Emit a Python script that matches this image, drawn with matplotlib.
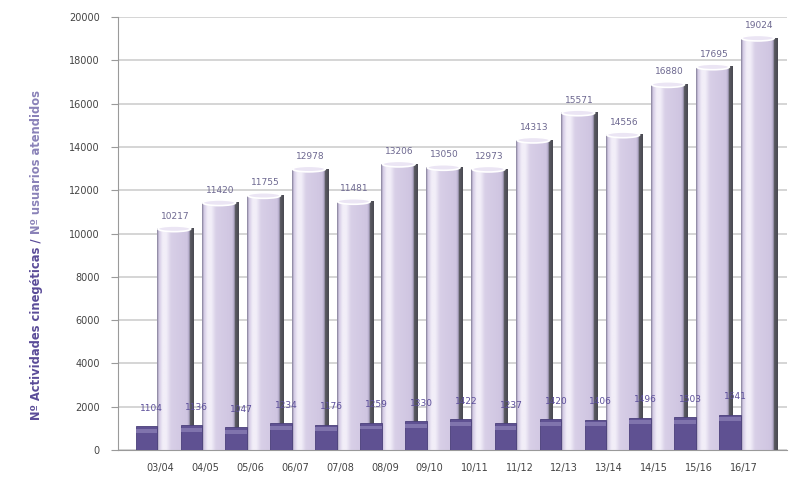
import matplotlib.pyplot as plt
import numpy as np
from matplotlib.patches import Ellipse, Rectangle
from matplotlib.colors import to_rgb

# temporadas
seasons = ["03/04", "04/05", "05/06", "06/07", "07/08", "08/09", "09/10",
           "10/11", "11/12", "12/13", "13/14", "14/15", "15/16", "16/17"]
# actividades cinegeticas (serie grande)
actividades = [10217, 11420, 11755, 12978, 11481, 13206, 13050,
               12973, 14313, 15571, 14556, 16880, 17695, 19024]
# usuarios atendidos (serie pequena)
usuarios = [1104, 1136, 1047, 1234, 1176, 1259, 1330,
            1422, 1237, 1420, 1406, 1496, 1503, 1641]

fig = plt.figure(figsize=(8.01, 4.86), dpi=100)
ax = fig.add_axes([0.147, 0.074, 0.835, 0.891])

x = np.arange(len(seasons))
big_off, big_w = 0.33, 0.81
small_off, small_w = -0.31, 0.48

# horizontal shading profile for the cylinder look
stops = [(0.0, "#8c86a0"), (0.05, "#d4cbe5"), (0.15, "#f2eef8"), (0.25, "#f2eef8"),
         (0.38, "#d8cfe7"), (0.82, "#cfc5e1"), (0.88, "#b0a7c6"), (0.9, "#5c5c64"),
         (1.0, "#4a4a52")]
pos = np.linspace(0, 1, 60)
sp = [s[0] for s in stops]
cols = np.array([to_rgb(s[1]) for s in stops])
profile = np.stack([np.interp(pos, sp, cols[:, k]) for k in range(3)], axis=-1)[None, :, :]

for xi, v in zip(x, actividades):
    x0 = xi + big_off - big_w / 2
    ax.imshow(profile, extent=(x0, x0 + big_w, 0, v), aspect="auto",
              interpolation="bilinear", zorder=2)
    ax.add_patch(Ellipse((xi + big_off - 0.02, v), big_w * 0.9, 260,
                         facecolor="#ebe5f4", edgecolor="white", lw=1.2, zorder=3))
    ax.text(xi + big_off, v + 380, str(v), ha="center", va="bottom",
            fontsize=6.5, color="#6d6890", zorder=5)

for xi, v in zip(x, usuarios):
    x0 = xi + small_off - small_w / 2
    ax.add_patch(Rectangle((x0, 0), small_w, v, facecolor="#5f5192",
                           edgecolor="#4a3f7a", lw=0.6, zorder=4))
    ax.add_patch(Rectangle((x0, v - 300), small_w, 170, facecolor="#8074ad",
                           edgecolor="none", zorder=4))
    ax.text(xi + small_off + 0.12, v + 620, str(v), ha="center", va="bottom",
            fontsize=6.5, color="#5c4f9a", zorder=5)

ax.set_xlim(-0.95, 13.95)
ax.set_ylim(0, 20000)
ax.set_yticks(np.arange(0, 20001, 2000))
ax.set_xticks(x)
ax.set_xticklabels(seasons)
ax.grid(axis="y", color="#cacaca", lw=1.1, zorder=0)
ax.set_axisbelow(True)
for s in ["top", "right"]:
    ax.spines[s].set_visible(False)
for s in ["left", "bottom"]:
    ax.spines[s].set_color("#9a9a9a")
ax.tick_params(axis="y", length=5, color="#9a9a9a", labelsize=7, labelcolor="#444444", pad=8)
ax.tick_params(axis="x", length=0, labelsize=7, labelcolor="#444444", pad=9)

# two-colour vertical axis title, second part placed right after the first
t1 = fig.text(0.045, 0.136, "Nº Actividades cinegéticas /", rotation=90, ha="center",
              va="bottom", fontsize=8.3, color="#5a4b98", fontweight="bold")
fig.canvas.draw()
bb = t1.get_window_extent().transformed(fig.transFigure.inverted())
fig.text(0.045, bb.y1 + 0.008, "Nº usuarios atendidos", rotation=90, ha="center",
         va="bottom", fontsize=8.3, color="#8a82b8", fontweight="bold")

fig.savefig("out.png", dpi=100)
